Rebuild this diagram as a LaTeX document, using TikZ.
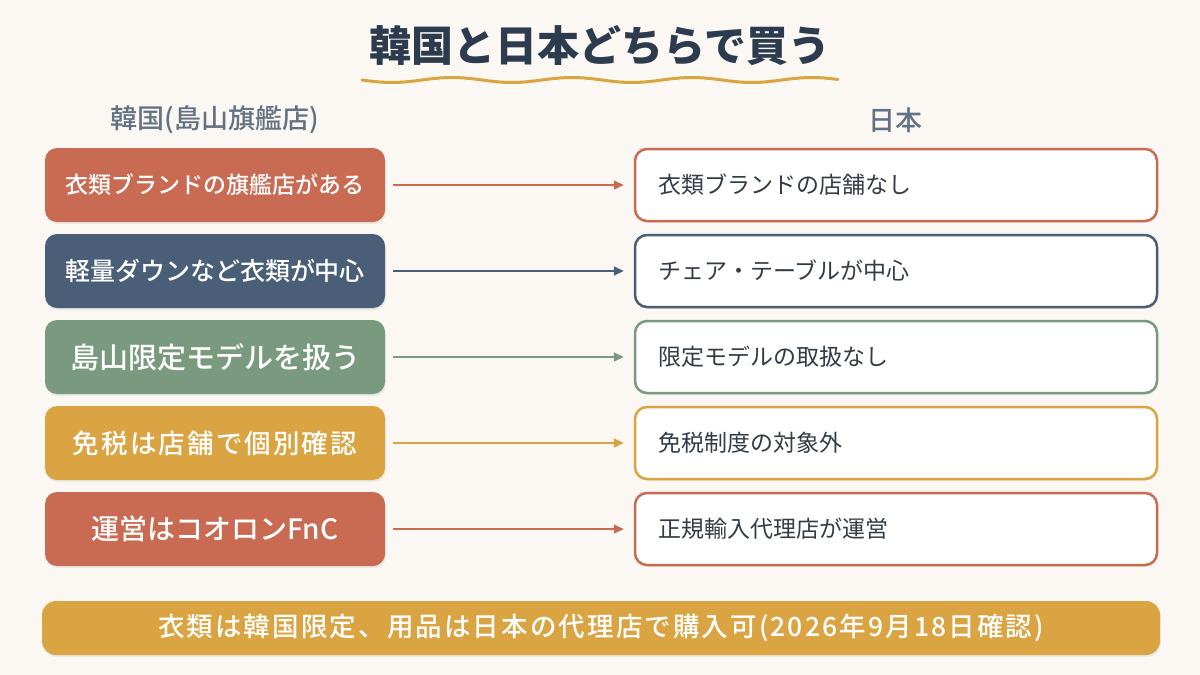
\documentclass[tikz,border=0pt]{standalone}
\usepackage{fontspec}
\setmainfont{Noto Sans CJK JP}
\newfontfamily\medfont[UprightFont=* Medium]{Noto Sans CJK JP}
\newfontfamily\spacedfont[UprightFont=* Medium, LetterSpace=8]{Noto Sans CJK JP}
\usepackage{xcolor}
\usepackage{tikz}
\usetikzlibrary{positioning, arrows.meta, shadows}

\definecolor{bgcream}{HTML}{FBF7F2}
\definecolor{navy}{HTML}{2C3B4E}
\definecolor{headgray}{HTML}{627282}
\definecolor{terra}{HTML}{C96B52}
\definecolor{slate}{HTML}{4A5F77}
\definecolor{sage}{HTML}{7A9A7F}
\definecolor{gold}{HTML}{DBA442}
\definecolor{bodytext}{HTML}{333B45}

\begin{document}
\begin{tikzpicture}[
  x=1pt, y=-1pt,
  colhead/.style={font=\medfont\fontsize{27}{32}\selectfont, text=headgray},
  korea/.style={rectangle, rounded corners=12pt, fill=#1, text=white,
    minimum width=340pt, minimum height=74pt, inner sep=4pt,
    drop shadow={shadow xshift=1pt, shadow yshift=-2pt, opacity=0.12}},
  japan/.style={rectangle, rounded corners=12pt, draw=#1, line width=2.5pt,
    fill=white, text=bodytext, text width=476pt, align=left,
    minimum height=72pt, inner xsep=23pt,
    font=\fontsize{23}{27}\selectfont,
    drop shadow={shadow xshift=1pt, shadow yshift=-2pt, opacity=0.10}},
  arr/.style={-{Triangle[length=10pt, width=9pt]}, line width=2pt, #1,
    shorten <=8pt, shorten >=10pt},
]
  % background and page size
  \fill[bgcream] (0,0) rectangle (1200,675);
  \useasboundingbox (0,0) rectangle (1200,675);

  % Title with wavy underline
  \node[font=\bfseries\fontsize{42}{48}\selectfont, text=navy] (title) at (600,46)
    {韓国と日本どちらで買う};
  \draw[gold, line width=3pt, line cap=round, domain=362:838, samples=120]
    plot (\x, {80 + 2.5*sin(3*(\x-362))});

  % Column headers
  \node[colhead] (hkorea) at (215,120) {韓国(島山旗艦店)};
  \node[colhead] (hjapan) at (895,120) {日本};

  % Korea side
  \node[korea=terra, font=\medfont\fontsize{23}{27}\selectfont] (k1) at (215,185)
    {衣類ブランドの旗艦店がある};
  \node[korea=slate, font=\medfont\fontsize{25}{29}\selectfont] (k2) at (215,271)
    {軽量ダウンなど衣類が中心};
  \node[korea=sage, font=\medfont\fontsize{29}{33}\selectfont] (k3) at (215,357)
    {島山限定モデルを扱う};
  \node[korea=gold, font=\spacedfont\fontsize{26.5}{30}\selectfont] (k4) at (215,443)
    {免税は店舗で個別確認};
  \node[korea=terra, font=\medfont\fontsize{28}{32}\selectfont] (k5) at (215,529)
    {運営はコオロンFnC};

  % Japan side
  \node[japan=terra] (j1) at (896,185) {衣類ブランドの店舗なし};
  \node[japan=slate] (j2) at (896,271) {チェア・テーブルが中心};
  \node[japan=sage]  (j3) at (896,357) {限定モデルの取扱なし};
  \node[japan=gold]  (j4) at (896,443) {免税制度の対象外};
  \node[japan=terra] (j5) at (896,529) {正規輸入代理店が運営};

  % Arrows
  \draw[arr=terra] (k1) -- (j1);
  \draw[arr=slate] (k2) -- (j2);
  \draw[arr=sage]  (k3) -- (j3);
  \draw[arr=gold]  (k4) -- (j4);
  \draw[arr=terra] (k5) -- (j5);

  % Summary banner
  \node[rectangle, rounded corners=14pt, fill=gold, text=white,
    minimum width=1118pt, minimum height=54pt,
    font=\spacedfont\fontsize{26.5}{30}\selectfont,
    drop shadow={shadow xshift=1pt, shadow yshift=-2pt, opacity=0.12}]
    (summary) at (601,628)
    {衣類は韓国限定、用品は日本の代理店で購入可(2026年9月18日確認)};
\end{tikzpicture}
\end{document}
